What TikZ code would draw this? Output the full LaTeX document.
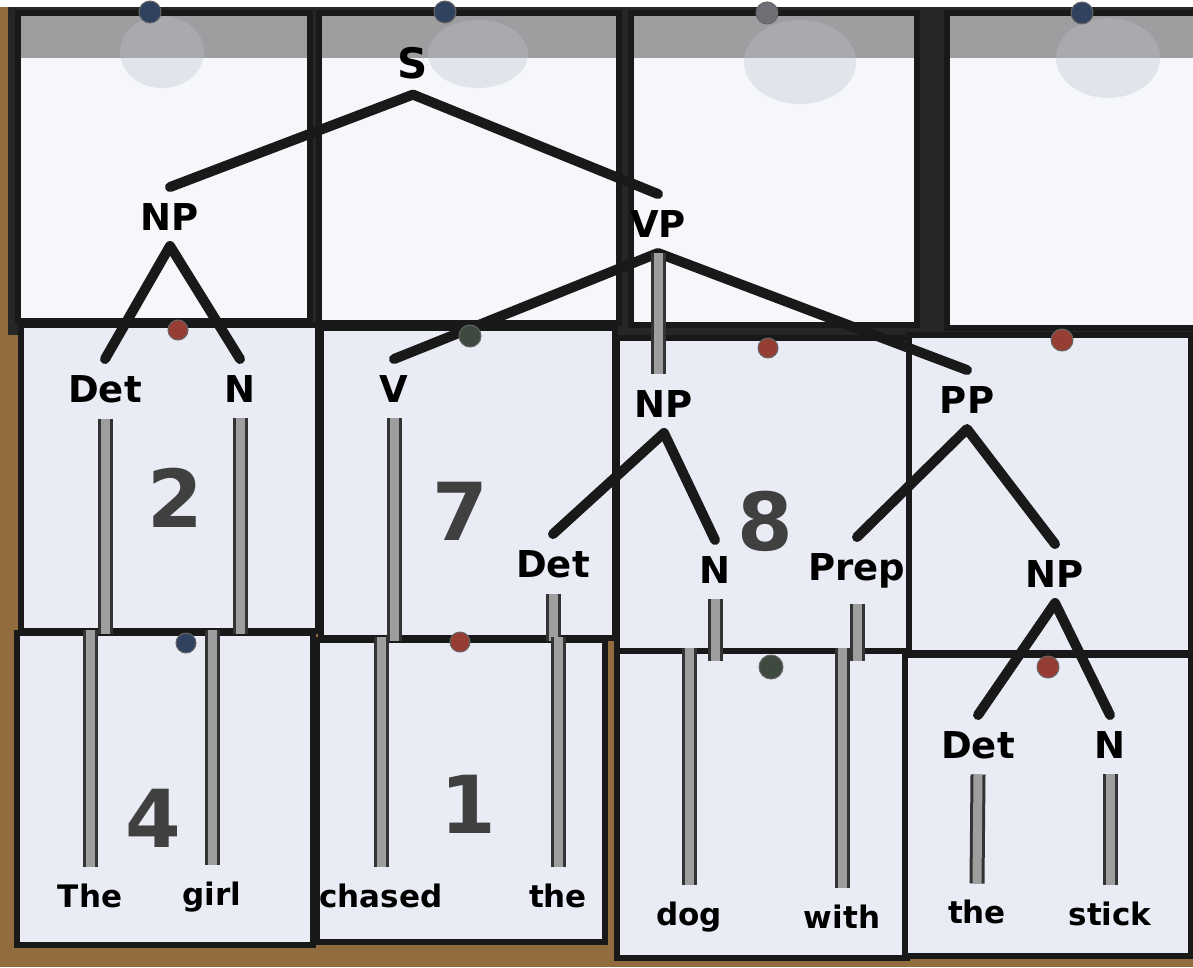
\documentclass[tikz,border=0pt]{standalone}
\usepackage{fontspec}
\setmainfont{DejaVu Sans}
\usepackage{xcolor}
\usepackage{tikz}

\definecolor{cork}{RGB}{146,108,62}
\definecolor{cardface}{RGB}{233,236,244}
\definecolor{topface}{RGB}{246,247,250}
\definecolor{band}{RGB}{158,158,160}
\definecolor{haze}{RGB}{190,195,208}
\definecolor{pinred}{RGB}{150,62,52}
\definecolor{pinblue}{RGB}{48,66,96}
\definecolor{pingreen}{RGB}{62,74,64}
\definecolor{pingray}{RGB}{110,112,118}

\newcommand\catfont{\bfseries\fontsize{37}{40}\selectfont}
\newcommand\bigcatfont{\bfseries\fontsize{42}{46}\selectfont}
\newcommand\wordfont{\bfseries\fontsize{31}{34}\selectfont}
\newcommand\numfont{\bfseries\fontsize{80}{84}\selectfont}

\begin{document}
\begin{tikzpicture}[%
  x=1pt, y=-1pt,
  card/.style={draw=black!90, line width=6pt, fill=cardface, anchor=north west, inner sep=0pt},
  topcard/.style={card, fill=topface,
    path picture={\fill[band] (path picture bounding box.north west) rectangle ([yshift=-45pt]path picture bounding box.north east);}},
  cat/.style={font=\catfont, inner sep=0pt, outer ysep=16pt, anchor=base},
  word/.style={font=\wordfont, inner sep=0pt, outer ysep=16pt, anchor=base},
  num/.style={font=\numfont, text=black!75, anchor=base},
  branch/.style={draw=black!90, line width=10pt, line cap=round, line join=round},
  stem/.style={draw=black!80, line width=3pt, double=black!38, double distance=9pt},
  pin/.style={draw=black!60, line width=1pt}]
  \useasboundingbox (0,0) rectangle (1193,967);
  \clip (0,0) rectangle (1193,967);
  % board
  \fill[cork] (0,0) rectangle (1193,967);
  \fill[black!85] (8,7) rectangle (1193,335);
  \fill[white] (0,0) rectangle (1193,7);
  % top row
  \node[topcard, minimum width=292pt, minimum height=308pt] (tA) at (15,10) {};
  \node[topcard, minimum width=300pt, minimum height=310pt] (tB) at (316,10) {};
  \node[topcard, minimum width=286pt, minimum height=312pt] (tC) at (628,10) {};
  \node[topcard, minimum width=262pt, minimum height=315pt] (tD) at (944,10) {};
  \fill[haze, opacity=.35] (162,52) ellipse (42pt and 36pt);
  \fill[haze, opacity=.35] (478,54) ellipse (50pt and 34pt);
  \fill[haze, opacity=.35] (800,62) ellipse (56pt and 42pt);
  \fill[haze, opacity=.35] (1108,58) ellipse (52pt and 40pt);
  % middle row
  \node[card, minimum width=297pt, minimum height=306pt] (c2) at (18,322) {};
  \node[card, minimum width=294pt, minimum height=310pt] (c7) at (318,325) {};
  \node[card, minimum width=294pt, minimum height=320pt] (c8) at (614,335) {};
  \node[card, minimum width=282pt, minimum height=318pt] (cPP) at (906,332) {};
  % bottom row
  \node[card, minimum width=296pt, minimum height=312pt] (c4) at (14,630) {};
  \node[card, minimum width=288pt, minimum height=302pt] (c1) at (314,637) {};
  \node[card, minimum width=290pt, minimum height=307pt] (cD) at (614,648) {};
  \node[card, minimum width=286pt, minimum height=301pt] (cS) at (902,652) {};
  % card numbers
  \node[num] (n2) at (175,527) {2};
  \node[num] (n7) at (460,540) {7};
  \node[num] (n8) at (765,550) {8};
  \node[num] (n4) at (153,847) {4};
  \node[num] (n1) at (468,833) {1};
  % categories
  \node[cat, font=\bigcatfont] (S) at (413,78) {S};
  \node[cat] (NP) at (170,230) {NP};
  \node[cat] (VP) at (658,237) {VP};
  \node[cat] (Det) at (105,402) {Det};
  \node[cat] (N) at (240,402) {N};
  \node[cat] (V) at (394,402) {V};
  \node[cat] (NPb) at (664,417) {NP};
  \node[cat] (PP) at (967,413) {PP};
  \node[cat] (Detb) at (553,577) {Det};
  \node[cat] (Nb) at (715,583) {N};
  \node[cat] (Prep) at (857,580) {Prep};
  \node[cat] (NPc) at (1055,587) {NP};
  \node[cat] (Detc) at (978,758) {Det};
  \node[cat] (Nc) at (1110,758) {N};
  % words
  \node[word] (The) at (90,907) {The};
  \node[word] (girl) at (212,905) {girl};
  \node[word] (chased) at (381,907) {chased};
  \node[word] (theb) at (558,907) {the};
  \node[word] (dog) at (689,925) {dog};
  \node[word] (with) at (842,928) {with};
  \node[word] (thec) at (977,923) {the};
  \node[word] (stick) at (1110,925) {stick};
  % branches
  \draw[branch] (NP.north) -- (S.south) -- (VP.north);
  \draw[branch] (Det.north) -- (NP.south) -- (N.north);
  \draw[branch] (V.north) -- (VP.south) -- (PP.north);
  \draw[branch] (Detb.north) -- (NPb.south) -- (Nb.north);
  \draw[branch] (Prep.north) -- (PP.south) -- (NPc.north);
  \draw[branch] (Detc.north) -- (NPc.south) -- (Nc.north);
  \draw[stem] (VP.south) -- (VP.south |- NPb.north);
  % stems down to the words
  \draw[stem] (Det.south) -- (Det.south |- c2.south);
  \draw[stem] (The.north |- c4.north) -- (The.north);
  \draw[stem] (N.south) -- (N.south |- c2.south);
  \draw[stem] (girl.north |- c4.north) -- (girl.north);
  \draw[stem] (V.south) -- (V.south |- c7.south);
  \draw[stem] (chased.north |- c1.north) -- (chased.north);
  \draw[stem] (Detb.south) -- (Detb.south |- c7.south);
  \draw[stem] (theb.north |- c1.north) -- (theb.north);
  \draw[stem] (Nb.south) -- (Nb.south |- c8.south);
  \draw[stem] (dog.north |- cD.north) -- (dog.north);
  \draw[stem] (Prep.south) -- (Prep.south |- c8.south);
  \draw[stem] (with.north |- cD.north) -- (with.north);
  \draw[stem] (Detc.south) -- (thec.north);
  \draw[stem] (Nc.south) -- (stick.north);
  % pins
  \filldraw[pin, fill=pinblue] (150,12) circle (11pt);
  \filldraw[pin, fill=pinblue] (445,12) circle (11pt);
  \filldraw[pin, fill=pingray] (767,13) circle (11pt);
  \filldraw[pin, fill=pinblue] (1082,13) circle (11pt);
  \filldraw[pin, fill=pinred] (178,330) circle (10pt);
  \filldraw[pin, fill=pingreen] (470,336) circle (11pt);
  \filldraw[pin, fill=pinred] (768,348) circle (10pt);
  \filldraw[pin, fill=pinred] (1062,340) circle (11pt);
  \filldraw[pin, fill=pinblue] (186,643) circle (10pt);
  \filldraw[pin, fill=pinred] (460,642) circle (10pt);
  \filldraw[pin, fill=pingreen] (771,667) circle (12pt);
  \filldraw[pin, fill=pinred] (1048,667) circle (11pt);
\end{tikzpicture}
\end{document}
